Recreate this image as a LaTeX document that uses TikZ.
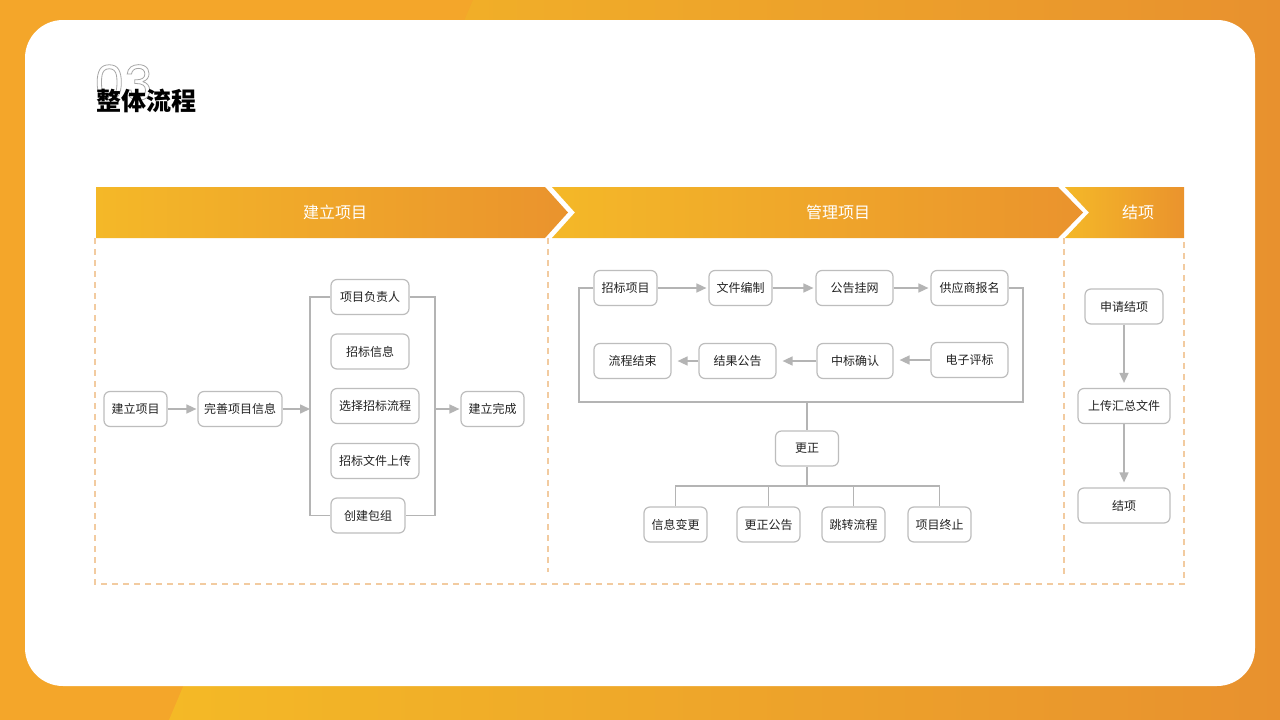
\documentclass[tikz,border=0pt]{standalone}
\usepackage{fontspec}
\setmainfont{Noto Sans CJK SC}
\newfontfamily\numfont{Poppins}
\usetikzlibrary{arrows.meta,calc}
\definecolor{bgA}{HTML}{F4A62A}
\definecolor{bgB}{HTML}{F4B926}
\definecolor{bgC}{HTML}{E8912E}
\definecolor{barA}{HTML}{F4B828}
\definecolor{barB}{HTML}{EA932D}
\definecolor{dashc}{HTML}{F2CBA0}
\definecolor{boxc}{HTML}{BDBDBD}
\definecolor{linec}{HTML}{B4B4B4}
\definecolor{txt}{HTML}{222222}
\tikzset{
  box/.style={draw=boxc, line width=1.2pt, fill=white, rounded corners=6pt,
    minimum height=35pt, inner sep=0pt, font=\fontsize{12pt}{14pt}\selectfont, text=txt},
  arr/.style={draw=linec, line width=1.6pt, -{Triangle[length=10pt,width=9pt]}},
  ln/.style={draw=linec, line width=1.4pt},
  dsh/.style={draw=dashc, line width=1.2pt, dash pattern=on 6pt off 5pt},
  bartxt/.style={text=white, font=\fontsize{16pt}{18pt}\selectfont}
}
\begin{document}
\begin{tikzpicture}[x=1pt,y=-1pt]
\useasboundingbox (0,0) rectangle (1280,720);
% background
\fill[bgA] (0,0) rectangle (1280,720);
\shade[left color=bgB, right color=bgC] (473,0) -- (1280,0) -- (1280,720) -- (169,720) -- cycle;
\fill[white, rounded corners=38pt] (25,20) rectangle (1255,686);
% title
\node[anchor=base west, inner sep=0pt, text=black!35, font=\numfont\fontsize{48pt}{48pt}\selectfont] (num) at (94,100)
  {\special{pdf:literal 1 Tr 0.8 w}03\special{pdf:literal 0 Tr}};
\node[anchor=west, inner sep=0pt, font=\bfseries\fontsize{25pt}{28pt}\selectfont, text=black] (title) at (96,101) {整体流程};
% header bars
\shade[left color=barA, right color=barB] (96,187) -- (545,187) -- (568,212.5) -- (545,238) -- (96,238) -- cycle;
\shade[left color=barA, right color=barB] (552,187) -- (1058,187) -- (1083,212.5) -- (1058,238) -- (552,238) -- (575,212.5) -- cycle;
\shade[left color=barA, right color=barB] (1065,187) -- (1184,187) -- (1184,238) -- (1065,238) -- (1089,212.5) -- cycle;
\node[bartxt] (h1) at (335,212.5) {建立项目};
\node[bartxt] (h2) at (838,212.5) {管理项目};
\node[bartxt] (h3) at (1138,212.5) {结项};
% dashed frame
\draw[dsh] (95,238) -- (95,584) -- (1184,584) -- (1184,238);
\draw[dsh] (548,238) -- (548,572);
\draw[dsh] (1064,238) -- (1064,578);
% ===== left section
\node[box, minimum width=63pt] (a1) at (135.5,409) {建立项目};
\node[box, minimum width=84pt] (a2) at (240,409) {完善项目信息};
\node[box, minimum width=78pt] (p1) at (370,297) {项目负责人};
\node[box, minimum width=78pt] (p2) at (370,351.5) {招标信息};
\node[box, minimum width=88pt] (p3) at (375,406) {选择招标流程};
\node[box, minimum width=88pt] (p4) at (375,461) {招标文件上传};
\node[box, minimum width=74pt] (p5) at (368,515.5) {创建包组};
\node[box, minimum width=63pt] (a3) at (492.5,409) {建立完成};
\coordinate (brL) at (310,409);
\coordinate (brR) at (435,409);
\draw[ln] (p1.west) -| (brL) |- (p5.west);
\draw[ln] (p1.east) -| (brR) |- (p5.east);
\draw[arr, shorten >=1pt] (a1.east) -- (a2.west);
\draw[arr] (a2.east) -- (brL);
\draw[arr, shorten >=1pt] (brR) -- (a3.west);
% ===== middle section
\node[box, minimum width=63pt] (m1) at (625.5,288) {招标项目};
\node[box, minimum width=63pt] (m2) at (740.5,288) {文件编制};
\node[box, minimum width=77pt] (m3) at (854.5,288) {公告挂网};
\node[box, minimum width=77pt] (m4) at (969.5,288) {供应商报名};
\node[box, minimum width=77pt] (m5) at (969.5,360) {电子评标};
\node[box, minimum width=76pt] (m6) at (855,361) {中标确认};
\node[box, minimum width=77pt] (m7) at (737.5,361) {结果公告};
\node[box, minimum width=77pt] (m8) at (632.5,361) {流程结束};
\draw[arr, shorten >=2pt] (m1.east) -- (m2.west);
\draw[arr, shorten >=2pt] (m2.east) -- (m3.west);
\draw[arr, shorten >=2pt] (m3.east) -- (m4.west);
\draw[arr, shorten >=6pt] (m5.west) -- (m6.east |- m5.west);
\draw[arr, shorten >=6pt] (m6.west) -- (m7.east);
\draw[arr, shorten >=6pt] (m7.west) -- (m8.east);
\coordinate (fl) at (579,402);
\coordinate (fr) at (1023,402);
\coordinate (fm) at (807,402);
\draw[ln] (m1.west) -| (fl) -- (fr) |- (m4.east);
\node[box, minimum width=63pt] (gz) at (807,448.5) {更正};
\draw[ln] (fm) -- (gz.north);
\node[box, minimum width=63pt] (c1) at (675.5,524.5) {信息变更};
\node[box, minimum width=63pt] (c2) at (768.5,524.5) {更正公告};
\node[box, minimum width=63pt] (c3) at (853.5,524.5) {跳转流程};
\node[box, minimum width=63pt] (c4) at (939.5,524.5) {项目终止};
\coordinate (jz) at (807,486);
\draw[ln] (gz.south) -- (jz);
\draw[ln] (c1.north) |- (jz) -| (c4.north);
\draw[ln] (c2.north) -- (c2.north |- jz);
\draw[ln] (c3.north) -- (c3.north |- jz);
% ===== right section
\node[box, minimum width=78pt] (r1) at (1124,306.5) {申请结项};
\node[box, minimum width=92pt] (r2) at (1124,406) {上传汇总文件};
\node[box, minimum width=92pt] (r3) at (1124,505.5) {结项};
\draw[arr, shorten >=5pt] (r1.south) -- (r2.north);
\draw[arr, shorten >=5pt] (r2.south) -- (r3.north);
\end{tikzpicture}
\end{document}
